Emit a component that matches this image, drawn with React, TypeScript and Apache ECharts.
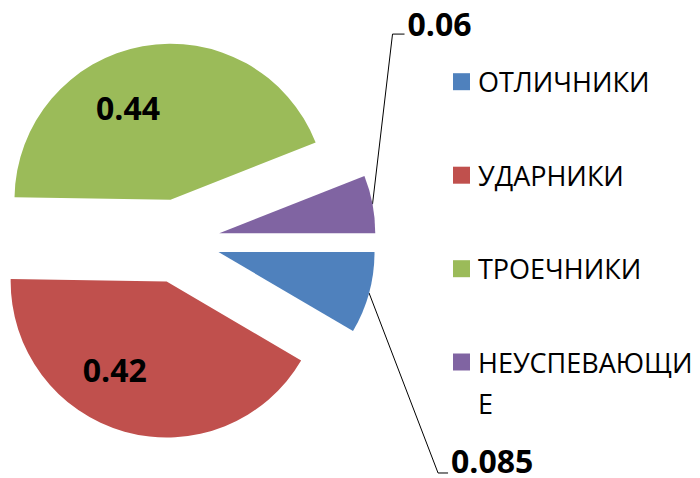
import React, { useEffect, useRef } from 'react';
import * as echarts from 'echarts';

const categories = ['ОТЛИЧНИКИ', 'УДАРНИКИ', 'ТРОЕЧНИКИ', 'НЕУСПЕВАЮЩИЕ'];
const values = [0.085, 0.42, 0.44, 0.06];
const colors = ['#4F81BD', '#C0504D', '#9BBB59', '#8064A2'];
const insideLabels = [false, true, true, false];

const CX = 178;
const CY = 241;
const R = 156;
const OFFSET = 42;
const LEN = 10;
const LEN2 = 10;
const FONT = "'Open Sans', 'Liberation Sans', sans-serif";

// label placement relative to the slice anchors (style only)
const insideShift: Record<number, [number, number]> = { 1: [-30, 10], 2: [-28, -12] };
const outsideLeader: Record<number, { bend: [number, number]; end: [number, number]; text: [number, number] }> = {
  0: { bend: [69, 180], end: [79, 180], text: [82, 168] },
  3: { bend: [20, -170], end: [32, -170], text: [35, -181] },
};

const total = values.reduce((a, b) => a + b, 0);
function midAngle(i: number) {
  let acc = 0;
  for (let j = 0; j < i; j++) acc += values[j];
  return ((acc + values[i] / 2) / total) * 2 * Math.PI;
}

export default function App() {
  const ref = useRef<HTMLDivElement>(null);
  useEffect(() => {
    document.body.style.margin = '0';
    if (!ref.current) return;
    const chart = echarts.init(ref.current, undefined, { renderer: 'svg' });
    const lastName = categories[3];
    chart.setOption({
      animation: false,
      backgroundColor: '#ffffff',
      color: colors,
      legend: [
        {
          data: categories.slice(0, 3),
          orient: 'vertical',
          left: 453,
          top: 61.7,
          padding: 0,
          itemWidth: 17,
          itemHeight: 17,
          itemGap: 53.5,
          icon: 'rect',
          selectedMode: false,
          textStyle: { fontSize: 27, fontFamily: FONT, color: '#000', lineHeight: 40, padding: [0, 0, 0, 3] },
        },
        {
          data: [lastName],
          orient: 'vertical',
          left: 453,
          top: 307.5,
          padding: 0,
          itemWidth: 17,
          itemHeight: 17,
          icon: 'rect',
          selectedMode: false,
          formatter: (name: string) => '{e| }\n{a|' + name.slice(0, -1) + '}\n{a|' + name.slice(-1) + '}',
          textStyle: {
            fontSize: 27,
            fontFamily: FONT,
            color: '#000',
            padding: [0, 0, 0, 3],
            rich: {
              e: { fontSize: 27, lineHeight: 41, fontFamily: FONT },
              a: { fontSize: 27, lineHeight: 41, fontFamily: FONT, color: '#000' },
            },
          },
        },
      ],
      series: [
        {
          type: 'pie',
          center: [CX, CY],
          radius: [0, R],
          startAngle: 0,
          clockwise: true,
          selectedMode: 'multiple',
          selectedOffset: OFFSET,
          avoidLabelOverlap: false,
          emphasis: { disabled: true },
          label: {
            show: true,
            formatter: '{c}',
            fontSize: 32,
            fontWeight: 'bold',
            fontFamily: FONT,
            color: '#000',
            distanceToLabelLine: 5,
          },
          labelLine: { show: true, length: LEN, length2: LEN2, lineStyle: { color: '#000', width: 1 } },
          labelLayout: (p: any) => {
            const i = p.dataIndex;
            const m = midAngle(i);
            const ux = Math.cos(m);
            const uy = Math.sin(m);
            const o = outsideLeader[i];
            if (o) {
              const pts = p.labelLinePoints;
              const ax = pts ? pts[0][0] : CX + R * ux;
              const ay = pts ? pts[0][1] : CY + R * uy;
              return {
                dx: o.text[0] - (ux * LEN + LEN2 + 5),
                dy: o.text[1] - uy * LEN,
                labelLinePoints: [
                  [ax, ay],
                  [ax + o.bend[0], ay + o.bend[1]],
                  [ax + o.end[0], ay + o.end[1]],
                ],
              };
            }
            const s = insideShift[i] || [0, 0];
            return { dx: s[0], dy: s[1] };
          },
          data: categories.map((name, i) => ({
            name,
            value: values[i],
            selected: true,
            label: { position: insideLabels[i] ? 'inside' : 'outside' },
            labelLine: { show: !insideLabels[i] },
          })),
        },
      ],
    });
    return () => chart.dispose();
  }, []);
  return <div ref={ref} style={{ width: 700, height: 478 }} />;
}
